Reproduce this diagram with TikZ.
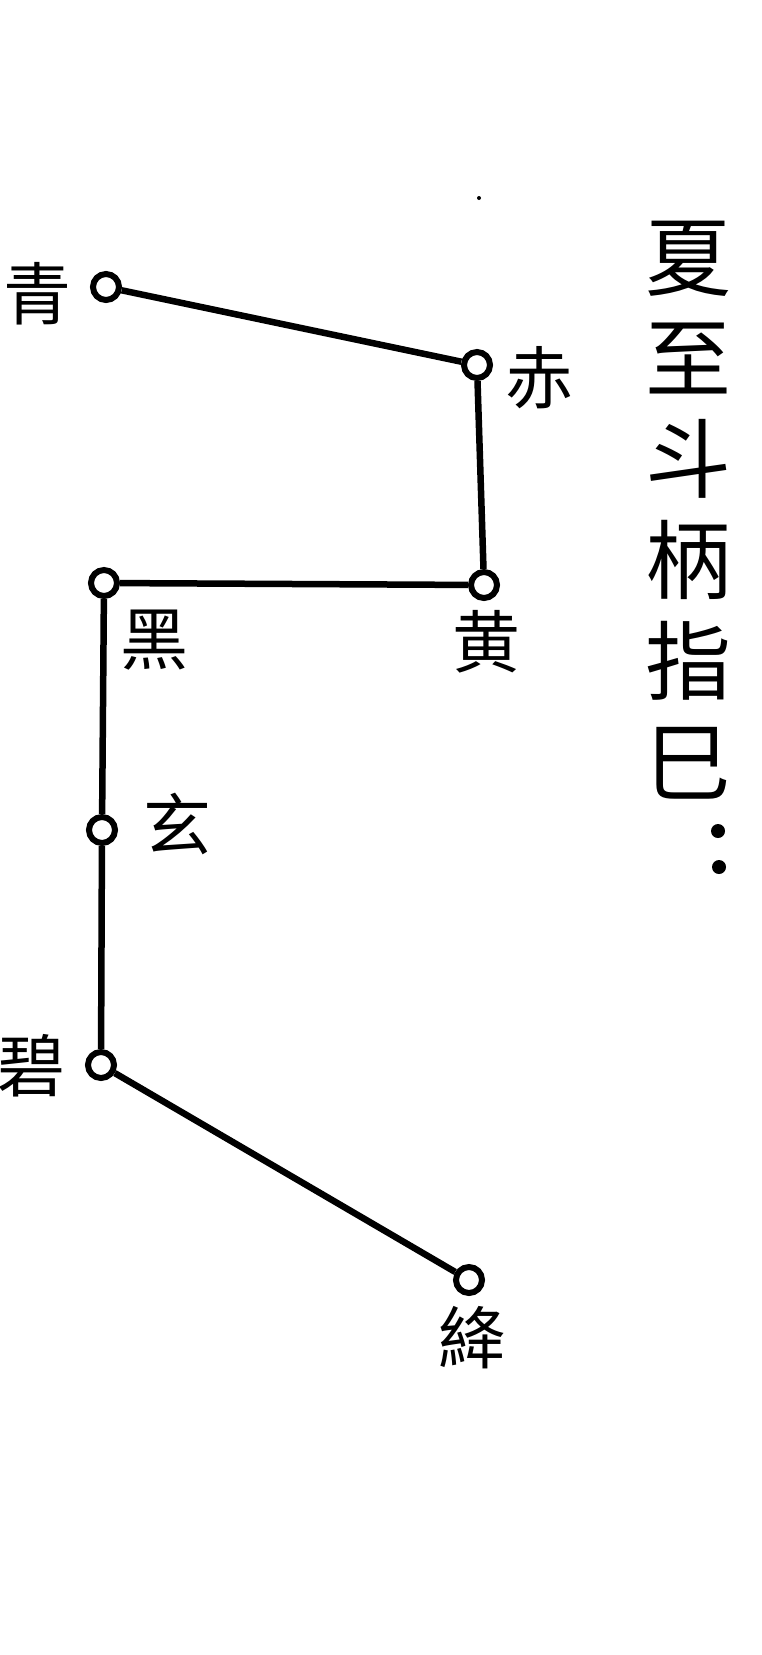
\documentclass[tikz,border=0pt]{standalone}
\usepackage{fontspec}
\newfontfamily\cjk{Noto Sans CJK SC}
\usepackage{tikz}

\tikzset{
  star/.style={circle,draw,line width=6pt,minimum size=26pt,inner sep=0pt,fill=white},
  lbl/.style={font=\cjk\fontsize{68pt}{68pt}\selectfont,inner sep=0pt},
}

\begin{document}
\begin{tikzpicture}[x=1pt,y=-1pt]
		\useasboundingbox (0,0) rectangle (761,1655);

		\node[star] (qing) at (106,287) {};
		\node[star] (chi) at (477,365) {};
		\node[star] (huang) at (484,585) {};
		\node[star] (hei) at (104,583) {};
		\node[star] (xuan) at (102,830) {};
		\node[star] (bi) at (101,1065) {};
		\node[star] (jiang) at (469,1280) {};

		\draw[line width=6.5pt] (qing) -- (chi) -- (huang) -- (hei) -- (xuan) -- (bi) -- (jiang);

		\node[lbl] (lqing) at (38,294) {青};
		\node[lbl] (lchi) at (539,378) {赤};
		\node[lbl] (lhuang) at (486,642) {黄};
		\node[lbl] (lhei) at (154,640) {黑};
		\node[lbl] (lxuan) at (177,824) {玄};
		\node[lbl] (lbi) at (32,1066) {碧};
		\node[lbl] (ljiang) at (472,1338) {絳};

		\node[font=\cjk\fontsize{86pt}{101pt}\selectfont,align=center,inner sep=0pt] (title) at (688,510) {夏\\至\\斗\\柄\\指\\巳};
		\fill (718,831) circle [radius=7];
		\fill (719,867) circle [radius=7];

		\fill (479,198) circle [radius=2];
	\end{tikzpicture}
\end{document}
